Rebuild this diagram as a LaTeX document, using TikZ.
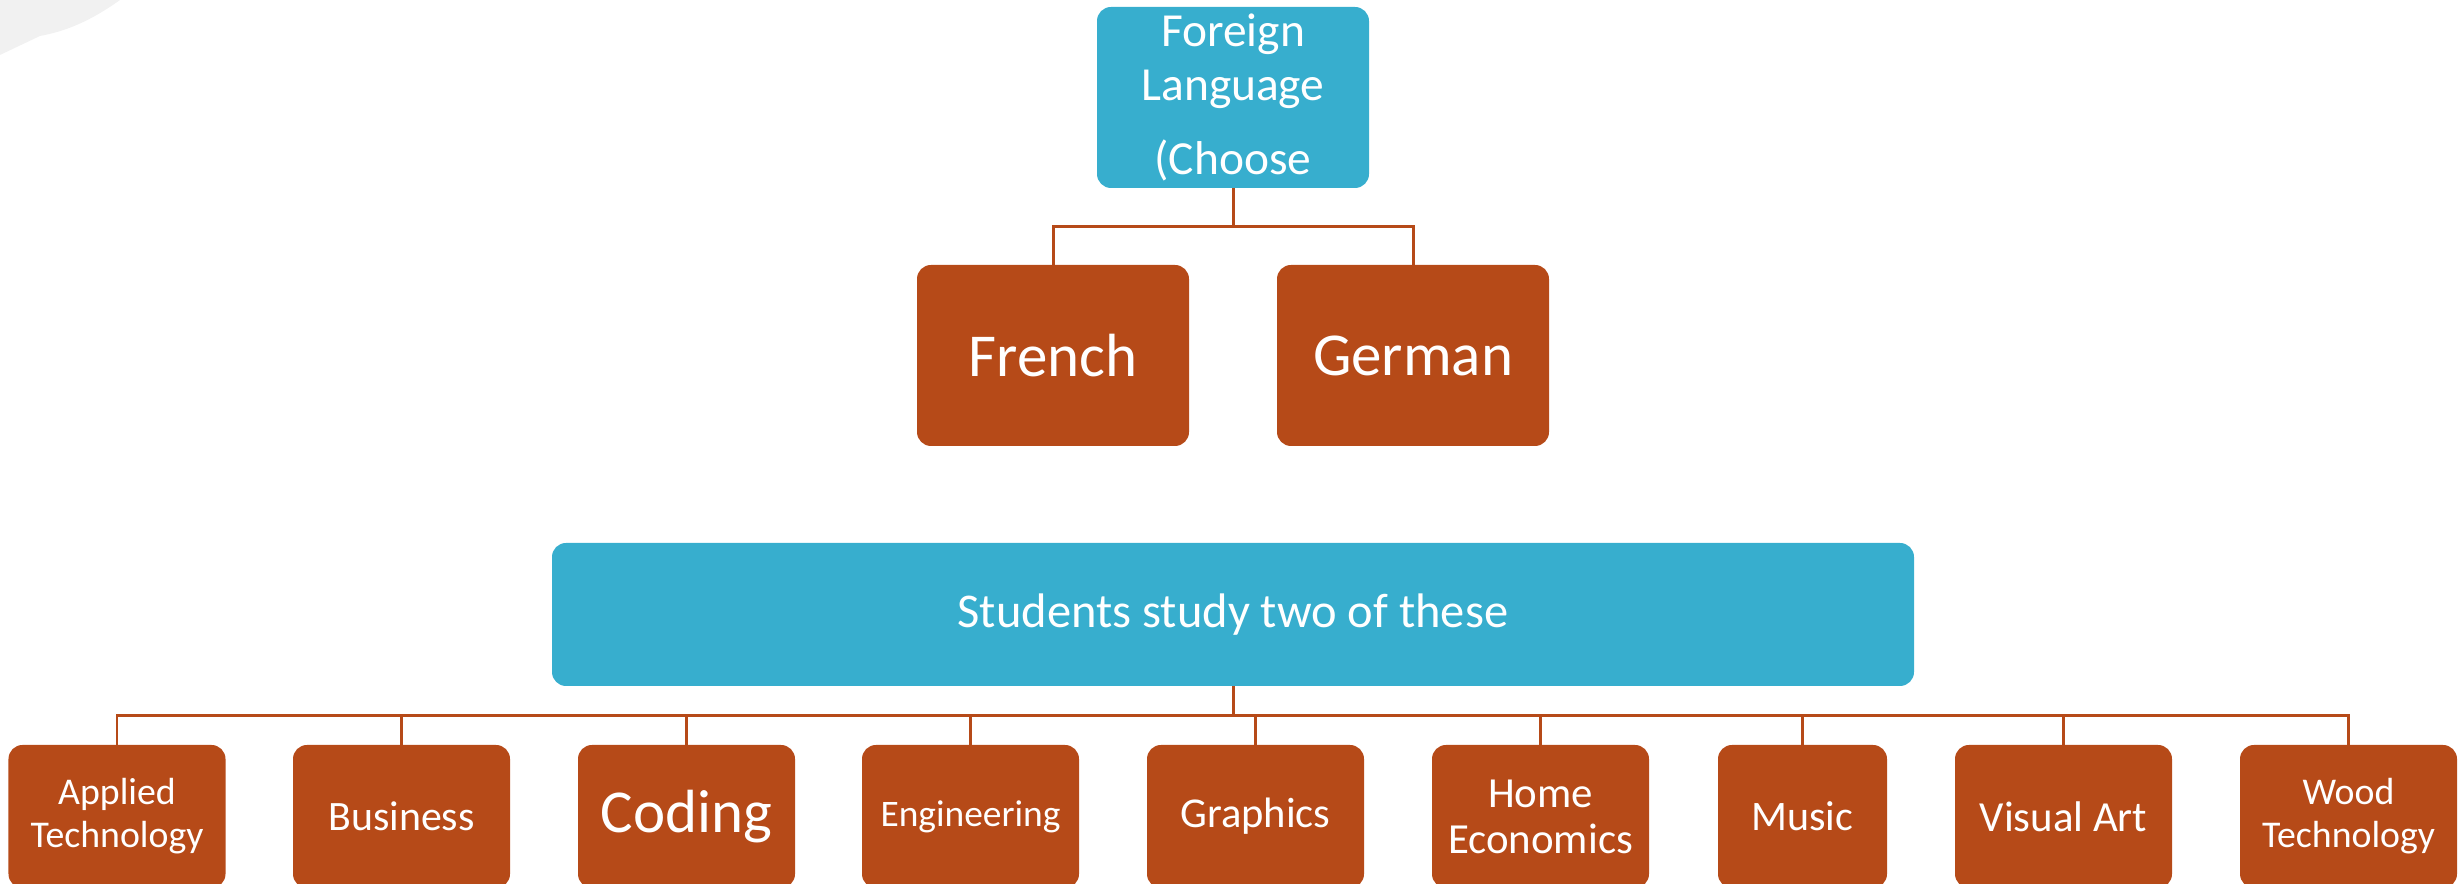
\documentclass[tikz,border=0pt]{standalone}
\usepackage{fontspec}
\setmainfont{Carlito}
\usetikzlibrary{positioning,calc}
\definecolor{HeadBlue}{RGB}{55,174,206}
\definecolor{BoxRust}{RGB}{182,74,24}
\definecolor{WaveGrey}{RGB}{241,241,241}

\begin{document}
\begin{tikzpicture}
  % Estilos
  \tikzset{
    head/.style={rounded corners=0.28cm,fill=HeadBlue,text=white,align=center,inner sep=0pt},
    lang/.style={rounded corners=0.28cm,fill=BoxRust,text=white,align=center,inner sep=0pt,
                 minimum width=5.44cm,minimum height=3.62cm,font=\fontsize{34.7}{40}\selectfont},
    subj/.style={rounded corners=0.28cm,fill=BoxRust,text=white,align=center,inner sep=0pt,
                 minimum width=4.34cm,minimum height=2.86cm},
    link/.style={draw=BoxRust,line width=1.7pt}
  }
  \useasboundingbox (0,0) rectangle (49.26,17.68);

  % fondo gris arriba a la izquierda
  \fill[WaveGrey] (0,17.68) -- (0,16.58) -- (0.8,16.96)
     .. controls (1.3,17.05) and (1.8,17.25) .. (2.4,17.68) -- cycle;

  %================= IDIOMAS =================
  \node[head,minimum width=5.44cm,minimum height=3.62cm,
        font=\fontsize{27}{30.7}\selectfont] (fl) at (24.66,15.73)
        {Foreign\\Language\\[11pt](Choose};

  \node[lang] (fr) at (21.06,10.57) {French};
  \node[lang] (de) at (28.26,10.57) {German};

  \coordinate (fl-bus) at (24.66,13.14);
  \draw[link] (fl.south) -- (fl-bus);
  \draw[link] (fl-bus) -| (fr.north);
  \draw[link] (fl-bus) -| (de.north);

  %================= ASIGNATURAS =================
  \node[head,minimum width=27.24cm,minimum height=2.86cm,
        font=\fontsize{27.6}{32}\selectfont] (st) at (24.66,5.39)
        {Students study two of these};

  \node[subj,font=\fontsize{21.5}{24.5}\selectfont] (s-app) at ( 2.34,1.35) {Applied\\Technology};
  \node[subj,font=\fontsize{23.8}{28}\selectfont]   (s-bus) at ( 8.03,1.35) {Business};
  \node[subj,font=\fontsize{34.7}{40}\selectfont]   (s-cod) at (13.73,1.35) {Coding};
  \node[subj,font=\fontsize{21.3}{25}\selectfont]   (s-eng) at (19.41,1.35) {Engineering};
  \node[subj,font=\fontsize{24.2}{28}\selectfont]   (s-gra) at (25.11,1.35) {Graphics};
  \node[subj,font=\fontsize{24.4}{26.2}\selectfont] (s-hom) at (30.81,1.35) {Home\\Economics};
  \node[subj,minimum width=3.38cm,
        font=\fontsize{23.9}{28}\selectfont]        (s-mus) at (36.05,1.35) {Music};
  \node[subj,font=\fontsize{24.4}{28}\selectfont]   (s-vis) at (41.27,1.35) {Visual Art};
  \node[subj,font=\fontsize{21.5}{24.5}\selectfont] (s-woo) at (46.97,1.35) {Wood\\Technology};

  % Conectores al bus inferior
  \coordinate (st-bus) at (24.66,3.36);
  \draw[link] (st.south) -- (st-bus);
  \draw[link] (st-bus) -| (s-app.north)  (st-bus) -| (s-bus.north)
              (st-bus) -| (s-cod.north)  (st-bus) -| (s-eng.north)
              (st-bus) -| (s-gra.north)  (st-bus) -| (s-hom.north)
              (st-bus) -| (s-mus.north)  (st-bus) -| (s-vis.north)
              (st-bus) -| (s-woo.north);

\end{tikzpicture}
\end{document}
